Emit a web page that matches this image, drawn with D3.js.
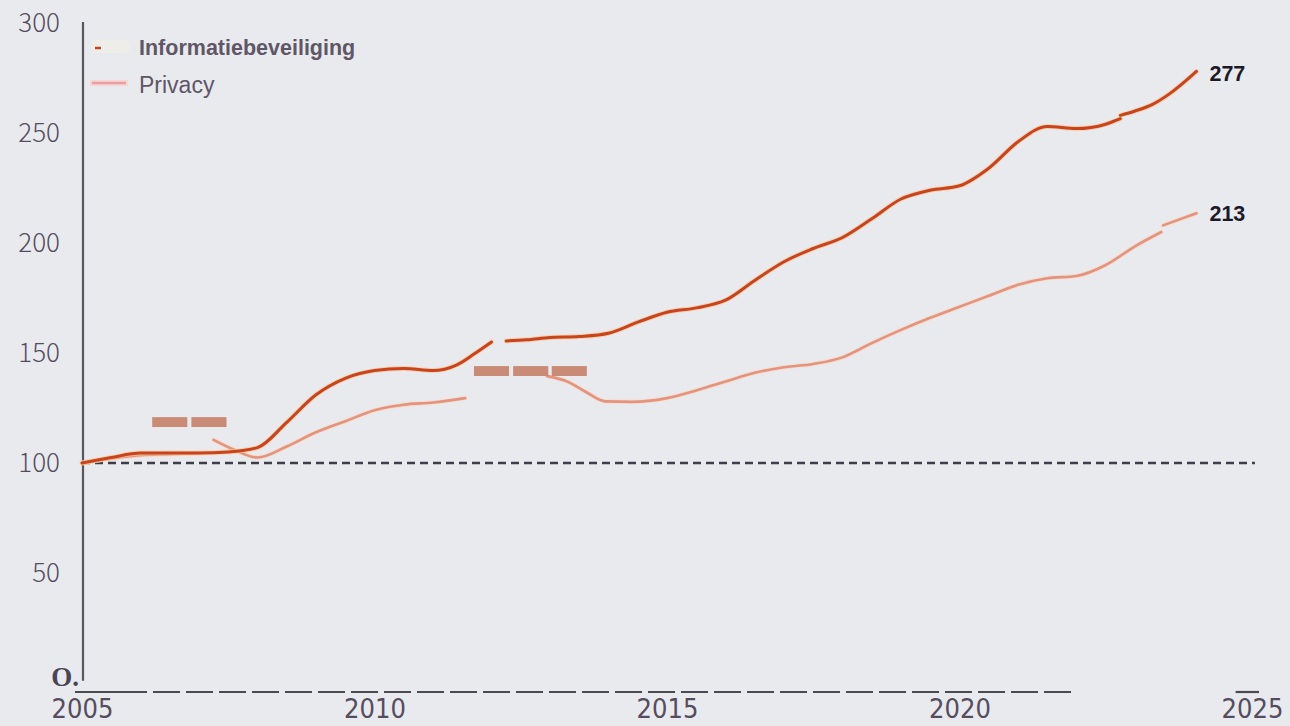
<!DOCTYPE html>
<html>
<head>
<meta charset="utf-8">
<script src="https://cdn.jsdelivr.net/npm/d3@7/dist/d3.min.js"></script>
<style>
  html, body { margin: 0; padding: 0; background: #e9eaee; }
  svg { display: block; }
</style>
</head>
<body>
<svg id="chart" width="1290" height="726"></svg>
<script>
// ---------- DATA ----------
const seriesNames = ["Informatiebeveiliging", "Privacy"];

const infoYears  = [2005, 2005.5, 2006, 2006.5, 2007, 2007.5, 2008, 2008.5, 2009, 2009.5, 2010, 2010.5, 2011, 2011.4, 2011.7, 2012, null,
                    2012.25, 2012.6, 2013, 2013.5, 2014, 2014.5, 2015, 2015.5, 2016, 2016.5, 2017, 2017.5, 2018, 2018.5, 2019, 2019.5, 2020, 2020.5, 2021, 2021.5, 2022, 2022.5, 2022.75, null,
                    2022.75, 2023, 2023.3, 2023.6, 2024.05];
const infoValues = [100, 102.5, 104.5, 104.5, 104.5, 105, 107, 118.5, 131, 138.5, 142, 143, 142, 144.5, 149.5, 155, null,
                    155.5, 156, 157, 157.5, 159, 164, 168.5, 170.5, 174, 183, 191.5, 197.5, 202.5, 211, 220, 224, 226, 234, 246, 253, 252, 254, 256.5, null,
                    258, 260, 263, 268, 278];

const privacyYears  = [2005, 2005.5, 2006, 2006.5, 2007, null,
                       2007.25, 2007.6, 2008, 2008.5, 2009, 2009.5, 2010, 2010.5, 2011, 2011.55, null,
                       2012.95, 2013.3, 2013.6, 2013.95, 2014.4, 2015, 2015.5, 2016, 2016.5, 2017, 2017.5, 2018, 2018.5, 2019, 2019.5, 2020, 2020.5, 2021, 2021.5, 2022, 2022.5, 2023, 2023.45, null,
                       2023.48, 2024.05];
const privacyValues = [100, 102, 103.5, 104, 104.5, null,
                       110.5, 106, 102.5, 107.5, 114, 119, 124, 126.5, 127.5, 129.5, null,
                       139.5, 137, 132.5, 128, 127.8, 129.5, 133, 137, 141, 143.5, 145, 148, 154.5, 160.5, 166, 171, 176, 181, 184, 185, 190, 198.5, 205, null,
                       208, 213.5];

const endLabels = ["277", "213"];
const endValues = [277, 213];

const yTickValues = [50, 100, 150, 200, 250, 300];
const yTickLabels = ["50", "100", "150", "200", "250", "300"];
const xTickValues = [2005, 2010, 2015, 2020, 2025];
const xTickLabels = ["2005", "2010", "2015", "2020", "2025"];

const baselineValue = 100;

// decorative dash marks present in the source picture (year start, value)
const markYears  = [2006.2, 2006.87, 2011.7, 2012.37, 2013.03];
const markValues = [118.6, 118.6, 141.8, 141.8, 141.8];

// ---------- LAYOUT ----------
const svg = d3.select("#chart");
const x = d3.scaleLinear().domain([2005, 2025]).range([82, 1252]);
const y = d3.scaleLinear().domain([0, 300]).range([683, 23]);

const labelColor = "#554d5e";
const infoColor = "#c9431c";
const privColor = "#e3937e";

svg.append("rect").attr("width", 1290).attr("height", 726).attr("fill", "#e9eaee");

// Y axis
const yAxis = d3.axisLeft(y).tickValues(yTickValues).tickFormat((d, i) => yTickLabels[i]).tickSize(0).tickPadding(23);
const gy = svg.append("g").attr("transform", `translate(${x(2005) + 1},0)`).call(yAxis);
gy.select(".domain").remove();
gy.selectAll("text")
  .attr("fill", labelColor)
  .attr("font-family", "'Noto Sans CJK JP', 'Noto Sans', sans-serif")
  .attr("font-weight", 300)
  .attr("font-size", 26);

svg.append("line")
  .attr("x1", x(2005) + 1).attr("x2", x(2005) + 1)
  .attr("y1", y(300.5)).attr("y2", y(1))
  .attr("stroke", "#58575f").attr("stroke-width", 2.2);

// zero label
svg.append("text")
  .attr("x", x(2005) - 3).attr("y", y(0) + 3)
  .attr("text-anchor", "end")
  .attr("font-family", "'Liberation Serif', 'DejaVu Serif', serif")
  .attr("font-weight", "bold")
  .attr("font-size", 27)
  .attr("fill", "#4a4552")
  .text("O.");

// X axis
const xAxisY = 692;
const xAxis = d3.axisBottom(x).tickValues(xTickValues).tickFormat((d, i) => xTickLabels[i]).tickSize(0).tickPadding(7);
const gx = svg.append("g").attr("transform", `translate(0,${xAxisY})`).call(xAxis);
gx.select(".domain").remove();
gx.selectAll("text")
  .attr("fill", labelColor)
  .attr("font-family", "'Liberation Sans Narrow', 'DejaVu Sans Condensed', 'Noto Sans CJK JP', sans-serif")
  .attr("font-weight", 300)
  .attr("font-size", 27);

const axisStroke = "#4b4a53";
svg.append("line").attr("x1", x(2004.88)).attr("x2", x(2005.65)).attr("y1", xAxisY).attr("y2", xAxisY)
  .attr("stroke", axisStroke).attr("stroke-width", 2.2);
svg.append("line").attr("x1", x(2005.65)).attr("x2", x(2021.92)).attr("y1", xAxisY).attr("y2", xAxisY)
  .attr("stroke", axisStroke).attr("stroke-width", 2.2).attr("stroke-dasharray", "27,6");
svg.append("line").attr("x1", x(2024.72)).attr("x2", x(2025.12)).attr("y1", xAxisY).attr("y2", xAxisY)
  .attr("stroke", axisStroke).attr("stroke-width", 2.2);

// baseline 100
svg.append("line")
  .attr("x1", x(2005)).attr("x2", x(2025.05))
  .attr("y1", y(baselineValue)).attr("y2", y(baselineValue))
  .attr("stroke", "#3c3e4a").attr("stroke-width", 2.4).attr("stroke-dasharray", "8,5");

// lines
function toPts(xs, vs) { return xs.map((d, i) => ({ x: d, v: vs[i] })); }
const line = d3.line()
  .defined(d => d.x !== null && d.v !== null)
  .x(d => x(d.x)).y(d => y(d.v))
  .curve(d3.curveMonotoneX);

const privPts = toPts(privacyYears, privacyValues);
const infoPts = toPts(infoYears, infoValues);

svg.append("path").datum(privPts).attr("d", line)
  .attr("fill", "none").attr("stroke", "#f6d9c8").attr("stroke-width", 4.5).attr("stroke-linecap", "round").attr("opacity", 0.8);
svg.append("path").datum(privPts).attr("d", line)
  .attr("fill", "none").attr("stroke", privColor).attr("stroke-width", 2.6).attr("stroke-linecap", "round");

svg.append("path").datum(infoPts).attr("d", line)
  .attr("fill", "none").attr("stroke", "#f4c99a").attr("stroke-width", 5).attr("stroke-linecap", "round").attr("opacity", 0.7);
svg.append("path").datum(infoPts).attr("d", line)
  .attr("fill", "none").attr("stroke", infoColor).attr("stroke-width", 3).attr("stroke-linecap", "round");

// decorative marks
const markW = 0.6, markH = 4.5;
svg.selectAll("rect.mark").data(markYears).enter().append("rect")
  .attr("class", "mark")
  .attr("x", d => x(d))
  .attr("y", (d, i) => y(markValues[i] + markH / 2))
  .attr("width", d => x(d + markW) - x(d))
  .attr("height", (d, i) => y(markValues[i] - markH / 2) - y(markValues[i] + markH / 2))
  .attr("fill", "#c98a76");

// end labels
svg.selectAll("text.end").data(endLabels).enter().append("text")
  .attr("class", "end")
  .attr("x", x(2024.05) + 13)
  .attr("y", (d, i) => y(endValues[i]) + 7)
  .attr("font-family", "'Liberation Sans', Arial, sans-serif")
  .attr("font-weight", "bold")
  .attr("font-size", 21.5)
  .attr("fill", "#1c1a28")
  .text(d => d);

// legend
const lg = svg.append("g");
lg.append("rect").attr("x", 92).attr("y", 40).attr("width", 38).attr("height", 13).attr("rx", 5).attr("fill", "#f1eee4").attr("opacity", 0.7);
lg.append("line").attr("x1", 95).attr("x2", 101).attr("y1", 48).attr("y2", 48).attr("stroke", infoColor).attr("stroke-width", 2.5);
lg.append("text").attr("x", 139).attr("y", 55)
  .attr("font-family", "'Liberation Sans', Arial, sans-serif").attr("font-weight", "bold").attr("font-size", 21.5)
  .attr("fill", "#5f5766").text(seriesNames[0]);
lg.append("line").attr("x1", 90).attr("x2", 128).attr("y1", 83).attr("y2", 83).attr("stroke", "#f7d6d6").attr("stroke-width", 6);
lg.append("line").attr("x1", 92).attr("x2", 126).attr("y1", 83).attr("y2", 83).attr("stroke", "#e6a0a0").attr("stroke-width", 2.5);
lg.append("text").attr("x", 139).attr("y", 93)
  .attr("font-family", "'Liberation Sans', Arial, sans-serif").attr("font-size", 23)
  .attr("fill", "#5f5766").text(seriesNames[1]);
</script>
</body>
</html>
